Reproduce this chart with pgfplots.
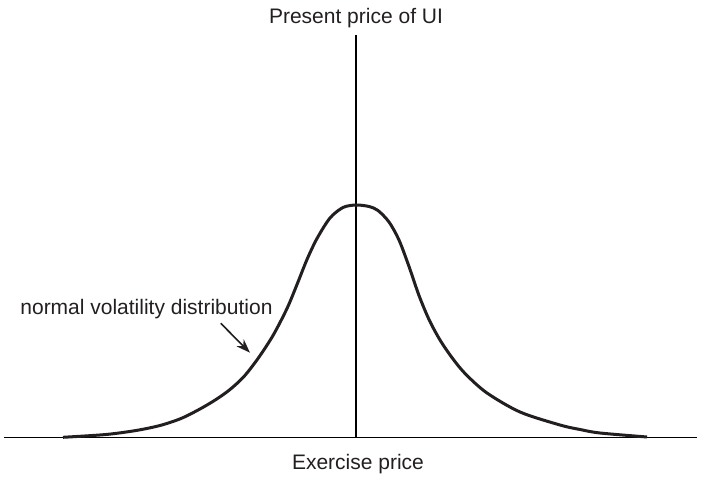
\documentclass[border=0pt]{standalone}
\usepackage{pgfplots}
\pgfplotsset{compat=1.18}
\usetikzlibrary{arrows.meta}
\usepackage{fontspec}
\setmainfont{Liberation Sans}
\definecolor{ink}{HTML}{231F20}
\definecolor{thin}{HTML}{3A3A3A}
\begin{document}
\begin{tikzpicture}
\begin{axis}[
  scale only axis, width=351pt, height=238.5pt,
  xmin=-356, xmax=346, ymin=-39.5, ymax=437.5,
  axis lines=none, ticks=none, clip=false,
]
\addplot[thin, line width=0.65pt] coordinates {(-352,0) (341,0)};
\addplot[thin, line width=0.65pt] coordinates {(0,0) (0,402.5)};
\addplot[ink, line width=1.5pt, smooth] coordinates {
(-293,0.2) (-250,3) (-220,7) (-196,12) (-175,19) (-156,28.5) (-140,38)
(-126,48) (-112,61) (-98,79) (-83,102) (-69,129) (-59,153) (-49,178) (-39,199)
(-26,219.5) (-13,230) (0,232.5) (13,231) (22,227) (33,215.5) (43,197.5)
(53,171) (63,142) (73,118) (84,97.5) (97,78.5) (110,63)
(131,44.5) (164,25.5) (204,12.5) (225,7.8) (244,4.5) (291,0.5)
};
\addplot[ink, line width=0.8pt, -{Stealth[length=7pt,width=5pt]}] coordinates {(-135.3,114.2) (-106,84.8)};
\node[anchor=base, font=\fontsize{10.5pt}{12pt}\selectfont, text=ink, inner sep=0pt] at (axis cs:0,413.5) {Present price of UI};
\node[anchor=base, font=\fontsize{10.5pt}{12pt}\selectfont, text=ink, inner sep=0pt] at (axis cs:2,-31.5) {Exercise price};
\node[anchor=base west, font=\fontsize{10.5pt}{12pt}\selectfont, text=ink, inner sep=0pt] at (axis cs:-336,122.5) {normal volatility distribution};
\end{axis}
\pgfresetboundingbox
\path (current axis.south west) rectangle (current axis.north east);
\end{tikzpicture}
\end{document}
